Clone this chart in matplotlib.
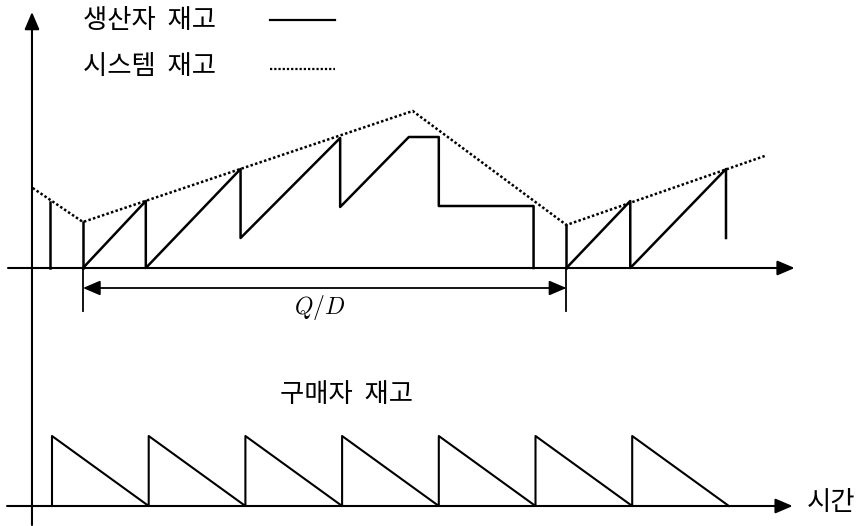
import matplotlib
matplotlib.use('Agg')
import matplotlib.pyplot as plt

plt.rcParams['font.family'] = ['Noto Sans CJK KR', 'DejaVu Sans']
plt.rcParams['mathtext.fontset'] = 'cm'

# producer inventory (time in buyer cycles, inventory in units)
producer_a_t = [0.32, 0.97, 0.97, 1.95, 1.95, 2.98, 2.98, 3.69, 4.0, 4.0, 4.98, 4.98]
producer_a_v = [0, 6.7, 0, 9.9, 3.0, 13.0, 6.1, 13.1, 13.1, 6.2, 6.2, 0]
producer_b_t = [5.32, 5.98, 5.98, 6.97, 6.97]
producer_b_v = [0, 6.7, 0, 9.9, 3.0]
producer_bars_t = [-0.02, 0.32, 5.32]
producer_bars_v = [6.6, 4.6, 4.3]

# system inventory
system_t = [-0.2, 0.32, 3.73, 5.32, 7.37]
system_v = [8.0, 4.6, 15.7, 4.3, 11.2]

# buyer inventory
buyer_t = [0, 0, 1, 1, 2, 2, 3, 3, 4, 4, 5, 5, 6, 6, 7]
buyer_v = [0, 7, 0, 7, 0, 7, 0, 7, 0, 7, 0, 7, 0, 7, 0]

qd_start, qd_end = 0.32, 5.32

fig = plt.figure(figsize=(8.57, 5.26), dpi=100)
ax_top = fig.add_axes([0, 186 / 526, 1, 340 / 526])
ax_bot = fig.add_axes([0, 0, 1, 186 / 526])
xlim = (-52 / 96.7, 805 / 96.7)
ax_top.set_xlim(xlim)
ax_top.set_ylim(-7.2, 26.8)
ax_bot.set_xlim(xlim)
ax_bot.set_ylim(-2.0, 16.6)
for ax in (ax_top, ax_bot):
    ax.axis('off')
    ax.patch.set_visible(False)

lw = 1.8
dots = (0, (1, 0.9))
arrow = dict(arrowstyle='-|>,head_length=0.75,head_width=0.32', color='black',
             lw=1.5, mutation_scale=14, shrinkA=0, shrinkB=0)

# axes with arrows
ax_top.annotate('', xy=(-0.207, 25.6), xytext=(-0.207, -25.7), arrowprops=arrow,
                annotation_clip=False)
ax_top.annotate('', xy=(7.68, 0), xytext=(-0.455, 0), arrowprops=arrow)
ax_bot.annotate('', xy=(7.66, 0), xytext=(-0.465, 0), arrowprops=arrow)

# producer
ax_top.plot(producer_a_t, producer_a_v, color='black', lw=lw)
ax_top.plot(producer_b_t, producer_b_v, color='black', lw=lw)
for t, v in zip(producer_bars_t, producer_bars_v):
    ax_top.plot([t, t], [0, v], color='black', lw=lw)

# system
ax_top.plot(system_t, system_v, color='black', lw=1.8, linestyle=dots)

# Q/D dimension
for t in (qd_start, qd_end):
    ax_top.plot([t, t], [0, -4.3], color='black', lw=1.3)
qd_arrow = dict(arrowstyle='<|-|>,head_length=0.75,head_width=0.32', color='black',
                lw=1.3, mutation_scale=14, shrinkA=0, shrinkB=0)
ax_top.annotate('', xy=(qd_end, -2.0), xytext=(qd_start, -2.0), arrowprops=qd_arrow)
ax_top.text(2.77, -4.0, r'$Q/D$', fontsize=17, ha='center', va='center')

# legend
ax_top.text(0.32, 24.7, '생산자  재고', fontsize=19, ha='left', va='center')
ax_top.text(0.32, 20.1, '시스템  재고', fontsize=19, ha='left', va='center')
ax_top.plot([2.254, 2.927], [24.8, 24.8], color='black', lw=1.6)
ax_top.plot([2.254, 2.927], [19.9, 19.9], color='black', lw=1.6, linestyle=dots)

# buyer
ax_bot.plot(buyer_t, buyer_v, color='black', lw=1.5)
ax_bot.text(3.05, 11.1, '구매자  재고', fontsize=19, ha='center', va='center')
ax_bot.text(7.81, 0.4, '시간', fontsize=19, ha='left', va='center')

fig.savefig('out.png', dpi=100, facecolor='white')
